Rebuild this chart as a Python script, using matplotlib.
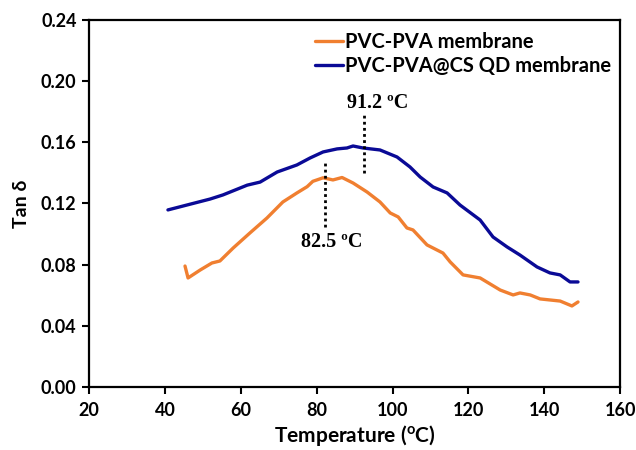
import matplotlib
matplotlib.use("Agg")
import matplotlib.pyplot as plt

plt.rcParams['font.family'] = ['Lato', 'DejaVu Sans']
plt.rcParams['mathtext.fontset'] = 'custom'
plt.rcParams['mathtext.rm'] = 'Lato'
plt.rcParams['mathtext.bf'] = 'Lato:bold'
plt.rcParams['mathtext.it'] = 'Lato:italic'

# PVC-PVA membrane (orange)
t_pva = [45.3, 46.1, 49.3, 52.4, 54.5, 58.0, 62.4, 66.9, 71.1, 74.8, 77.5, 79.0, 81.7,
         84.3, 86.7, 89.6, 93.3, 96.7, 99.4, 101.5, 103.8, 105.4, 109.1, 113.3, 115.2,
         118.6, 123.1, 128.4, 131.8, 133.6, 136.3, 138.9, 144.2, 147.3, 148.9]
tan_pva = [0.0791, 0.0713, 0.0765, 0.0811, 0.0824, 0.0909, 0.1007, 0.1105, 0.1210, 0.1269,
           0.1310, 0.1345, 0.1368, 0.1354, 0.1370, 0.1334, 0.1275, 0.1210, 0.1138, 0.1112,
           0.1040, 0.1027, 0.0929, 0.0876, 0.0818, 0.0733, 0.0713, 0.0634, 0.0602, 0.0615,
           0.0602, 0.0576, 0.0562, 0.0530, 0.0556]

# PVC-PVA@CS QD membrane (blue)
t_cs = [40.8, 51.9, 55.3, 57.2, 61.7, 65.1, 69.6, 74.8, 78.3, 81.7, 85.4, 88.0, 89.6,
        92.2, 96.7, 101.2, 104.6, 107.3, 110.7, 114.4, 117.8, 123.1, 126.5, 130.2,
        133.6, 138.1, 141.5, 144.2, 146.8, 148.9]
tan_cs = [0.1158, 0.1229, 0.1256, 0.1275, 0.1320, 0.1340, 0.1406, 0.1452, 0.1498, 0.1537,
          0.1557, 0.1563, 0.1576, 0.1563, 0.1550, 0.1504, 0.1439, 0.1373, 0.1308, 0.1269,
          0.1190, 0.1092, 0.0981, 0.0916, 0.0863, 0.0785, 0.0746, 0.0733, 0.0687, 0.0687]

labels = ["PVC-PVA membrane", "PVC-PVA@CS QD membrane"]
colors = ["#F07F30", "#0A0A96"]

x_ticks = [20, 40, 60, 80, 100, 120, 140, 160]
y_ticks = [0.00, 0.04, 0.08, 0.12, 0.16, 0.20, 0.24]

# annotations: (x, y_bottom, y_top, label, label_x, label_y)
ann_pva = (82.2, 0.1046, 0.1485, "82.5 ºC", 84.0, 0.0945)
ann_cs = (92.5, 0.1400, 0.1800, "91.2 ºC", 96.0, 0.1860)

fig = plt.figure(figsize=(6.36, 4.5), dpi=100)
ax = fig.add_axes([0.140, 0.140, 0.835, 0.8156])

ax.plot(t_pva, tan_pva, color=colors[0], lw=2.4, label=labels[0], solid_capstyle='round')
ax.plot(t_cs, tan_cs, color=colors[1], lw=2.4, label=labels[1], solid_capstyle='round')

for (xa, yb, yt, txt, lx, ly) in (ann_pva, ann_cs):
    ax.plot([xa, xa], [yb, yt], color='black', lw=2, linestyle=(0, (1, 1.2)))
    ax.text(lx, ly, txt, family='Liberation Serif', fontweight='bold', fontsize=14.5,
            ha='center', va='center')

ax.set_xlim(20, 160)
ax.set_ylim(0, 0.24)
ax.set_xticks(x_ticks)
ax.set_yticks(y_ticks)
ax.set_xticklabels([str(v) for v in x_ticks])
ax.set_yticklabels([f"{v:.2f}" for v in y_ticks])
for lab in ax.get_xticklabels() + ax.get_yticklabels():
    lab.set_fontweight('bold')
    lab.set_fontsize(13)
ax.tick_params(direction='out', length=5, width=1.5, pad=4)
ax.tick_params(axis='x', pad=6)
for sp in ax.spines.values():
    sp.set_linewidth(1.6)

ax.set_xlabel(r"Temperature ($^{\mathbf{o}}$C)", fontsize=15, fontweight='bold', labelpad=3)
ax.set_ylabel("Tan δ", fontsize=14, fontweight='bold', labelpad=8)

leg = ax.legend(loc='upper left', bbox_to_anchor=(0.41, 0.99), frameon=False,
                handlelength=1.4, handletextpad=0.1, labelspacing=0.2, borderaxespad=0,
                prop={'family': 'Lato', 'weight': 'bold', 'size': 14.5})

fig.savefig("out.png", dpi=100)
